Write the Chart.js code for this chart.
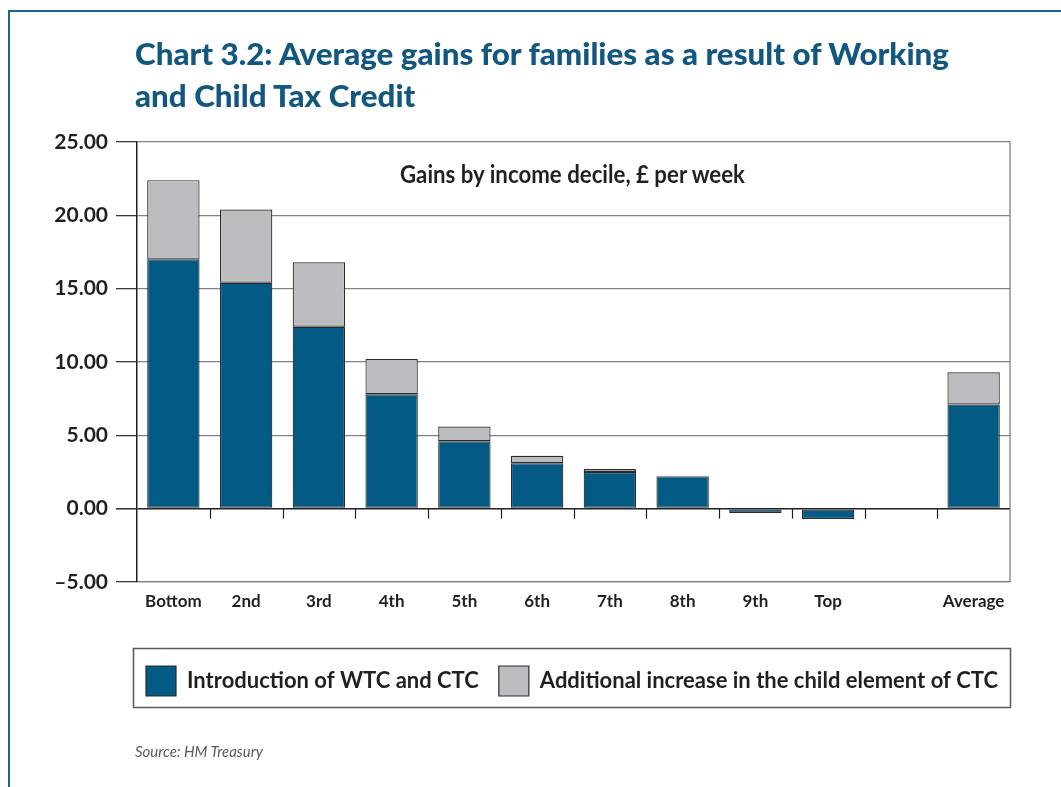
<!DOCTYPE html>
<html>
<head>
<meta charset="utf-8">
<script src="https://cdn.jsdelivr.net/npm/chart.js@4.4.1/dist/chart.umd.min.js"></script>
<style>
html,body{margin:0;padding:0;background:#fff;}
#wrap{position:relative;width:1061px;height:787px;overflow:hidden;background:#fff;}
#frame{position:absolute;left:8px;top:10px;width:1100px;height:800px;border-top:2px solid #1f628c;border-left:2px solid #1f628c;}
canvas{position:absolute;left:0;top:0;}
.t{position:absolute;white-space:nowrap;font-family:Lato,"Open Sans",sans-serif;transform-origin:0 0;}
.title{font-weight:900;font-size:31px;line-height:31px;color:#11577f;}
</style>
</head>
<body>
<div id="wrap">
  <div id="frame"></div>
  <canvas id="c" width="1061" height="787"></canvas>
  <div class="t title" id="t1" style="left:135px;top:37.5px">Chart 3.2: Average gains for families as a result of Working</div>
  <div class="t title" id="t2" style="left:135px;top:79.5px">and Child Tax Credit</div>
  <div class="t" id="sub" style="left:400px;top:161.7px;font-weight:700;font-size:24px;line-height:24px;color:#231f20">Gains by income decile, £ per week</div>
  <div class="t" id="src" style="left:135px;top:743.7px;font-style:italic;font-size:15px;line-height:15px;color:#58595b">Source: HM Treasury</div>
</div>
<script>
// ---- data ----
const categories = ['Bottom','2nd','3rd','4th','5th','6th','7th','8th','9th','Top','','Average'];
const wtcCtc = [17.0, 15.4, 12.4, 7.8, 4.6, 3.1, 2.5, 2.2, -0.3, -0.7, null, 7.1];
const childElement = [5.4, 5.0, 4.4, 2.4, 1.0, 0.5, 0.2, 0.05, 0, 0, null, 2.2];
const seriesNames = ['Introduction of WTC and CTC', 'Additional increase in the child element of CTC'];
const yMin = -5, yMax = 25, yStep = 5;

// ---- html text fitting ----
function fitText(id, target, centerX, scale) {
  const el = document.getElementById(id);
  const w = el.getBoundingClientRect().width;
  const s = scale || target / w;
  el.style.transform = 'scaleX(' + s + ')';
  if (centerX !== undefined && centerX !== null) el.style.left = (centerX - w * s / 2) + 'px';
  return s;
}
const ts = fitText('t1', 814);
fitText('t2', 0, null, ts);
fitText('sub', 345, 572.5);
fitText('src', 128);

// ---- chart ----
const decor = {
  id: 'decor',
  afterLayout(chart) {
    // centre the legend under the plot area (same centre as the framed box)
    const lg = chart.legend, a = chart.chartArea;
    lg.left = a.left - 44;
    lg.right = a.right + 41;
    lg.width = lg.right - lg.left;
    lg.top += 4;
    lg.bottom += 4;
  },
  afterDraw(chart) {
    const ctx = chart.ctx, a = chart.chartArea;
    const xs = chart.scales.x, ys = chart.scales.y;
    ctx.save();
    // right border of plot
    ctx.strokeStyle = '#808285';
    ctx.lineWidth = 1.3;
    ctx.beginPath();
    ctx.moveTo(a.right, a.top);
    ctx.lineTo(a.right, a.bottom);
    ctx.stroke();
    // category tick marks on zero line
    const y0 = ys.getPixelForValue(0);
    ctx.strokeStyle = '#231f20';
    ctx.lineWidth = 1.2;
    for (let i = 0; i < categories.length - 1; i++) {
      const px = Math.round((xs.getPixelForValue(i) + xs.getPixelForValue(i + 1)) / 2) + 0.5;
      ctx.beginPath();
      ctx.moveTo(px, y0);
      ctx.lineTo(px, y0 + 10);
      ctx.stroke();
    }
    // legend frame
    const lg = chart.legend;
    ctx.strokeStyle = '#58595b';
    ctx.lineWidth = 1.5;
    ctx.strokeRect(a.left - 3.5, lg.top + 2.5, a.right - a.left + 4, 59);
    ctx.restore();
  }
};

new Chart(document.getElementById('c'), {
  type: 'bar',
  data: {
    labels: categories,
    datasets: [
      { label: seriesNames[0], data: wtcCtc, backgroundColor: '#035a84', borderColor: '#2b2b2d', borderWidth: 1.2, borderSkipped: false },
      { label: seriesNames[1], data: childElement, backgroundColor: '#bcbdc1', borderColor: '#2b2b2d', borderWidth: 1.2, borderSkipped: false }
    ]
  },
  options: {
    responsive: false,
    animation: false,
    devicePixelRatio: 1,
    barPercentage: 0.72,
    categoryPercentage: 1.0,
    layout: { padding: { top: 142, right: 51, bottom: 85, left: 0 } },
    plugins: {
      title: { display: false },
      tooltip: { enabled: false },
      legend: {
        position: 'bottom',
        align: 'center',
        labels: {
          boxWidth: 30, boxHeight: 30, padding: 20, color: '#231f20',
          font: { family: 'Lato', weight: 'bold', size: 22 }
        }
      }
    },
    scales: {
      x: {
        stacked: true,
        grid: { display: false },
        border: { display: true, color: '#808285', width: 1.3 },
        ticks: { color: '#231f20', padding: 1, maxRotation: 0, autoSkip: false,
          font: { family: 'Lato', weight: 'bold', size: 17 } },
        afterFit: s => { s.height = 60; }
      },
      y: {
        stacked: true,
        min: yMin, max: yMax,
        grid: {
          color: c => (c.tick && c.tick.value === 0) ? '#231f20' : '#808285',
          lineWidth: c => (c.tick && c.tick.value === 0) ? 1.6 : 1.3,
          tickLength: 21,
          tickColor: '#3a3a3c'
        },
        border: { display: true, color: '#231f20', width: 1.5 },
        ticks: {
          stepSize: yStep, padding: 8, color: '#231f20',
          font: { family: 'Lato', weight: 'bold', size: 21 },
          callback: v => v < 0 ? '\u2013' + Math.abs(v).toFixed(2) : v.toFixed(2)
        },
        afterFit: s => { s.width = 137; }
      }
    }
  },
  plugins: [decor]
});
</script>
</body>
</html>
